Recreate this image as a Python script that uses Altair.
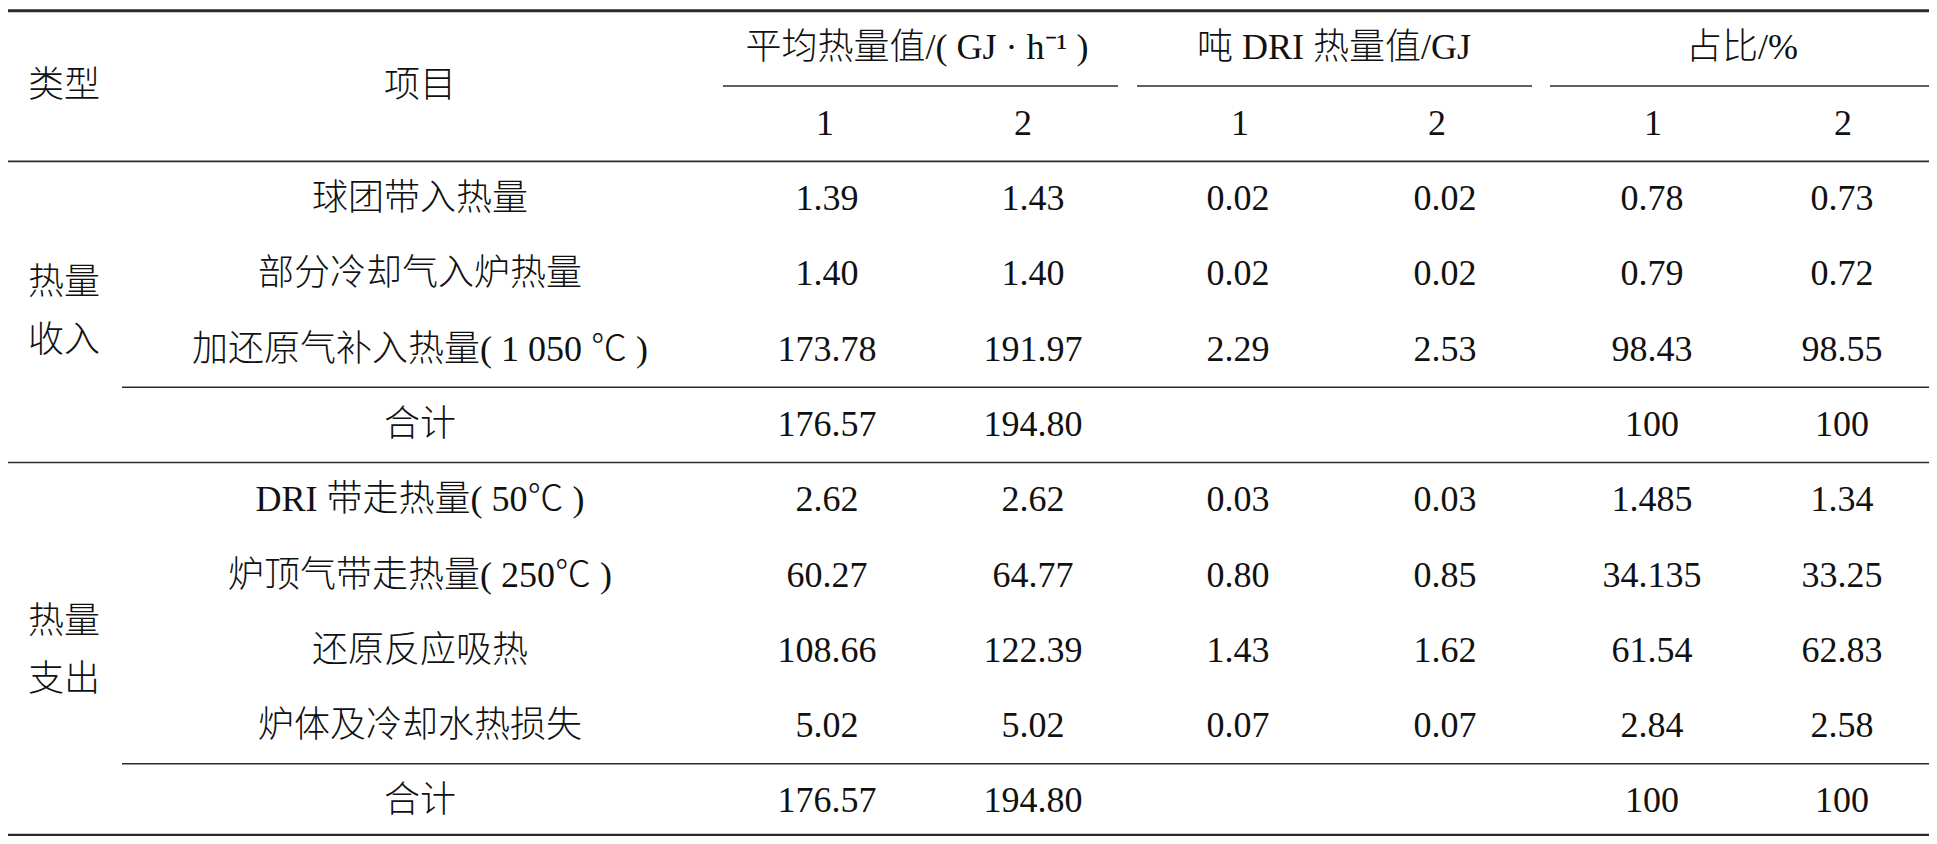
import altair as alt
import pandas as pd

corner_labels = ["类型", "项目"]
group_headers = ["平均热量值/( GJ · h⁻¹ )", "吨 DRI 热量值/GJ", "占比/%"]
sub_headers = ["1", "2", "1", "2", "1", "2"]
type_labels = [["热量", "收入"], ["热量", "支出"]]
type_rows = [[0, 1, 2, 3], [4, 5, 6, 7, 8]]

items = [
    "球团带入热量",
    "部分冷却气入炉热量",
    "加还原气补入热量( 1 050 ℃ )",
    "合计",
    "DRI 带走热量( 50℃ )",
    "炉顶气带走热量( 250℃ )",
    "还原反应吸热",
    "炉体及冷却水热损失",
    "合计",
]
avg_heat_1 = ["1.39", "1.40", "173.78", "176.57", "2.62", "60.27", "108.66", "5.02", "176.57"]
avg_heat_2 = ["1.43", "1.40", "191.97", "194.80", "2.62", "64.77", "122.39", "5.02", "194.80"]
ton_heat_1 = ["0.02", "0.02", "2.29", "", "0.03", "0.80", "1.43", "0.07", ""]
ton_heat_2 = ["0.02", "0.02", "2.53", "", "0.03", "0.85", "1.62", "0.07", ""]
share_1 = ["0.78", "0.79", "98.43", "100", "1.485", "34.135", "61.54", "2.84", "100"]
share_2 = ["0.73", "0.72", "98.55", "100", "1.34", "33.25", "62.83", "2.58", "100"]
value_columns = [avg_heat_1, avg_heat_2, ton_heat_1, ton_heat_2, share_1, share_2]

# ---------------- layout (page pixels / row units) ----------------
W, H = 1921, 828
OX, OY = 8, 8
ROW0, PITCH = 199.0, 75.3          # page y of first body row, row pitch
LEFT, RIGHT, INNER = 8, 1930, 122
type_x = 64
type_half_gap = 0.385              # half line spacing of the two-line type label (rows)
item_x = 420
col_x = [827, 1033, 1238, 1445, 1652, 1842]
sub_x = [825, 1023, 1240, 1437, 1653, 1843]
grp_x = [917, 1334, 1742]
grp_span = [(723, 1118), (1137, 1532), (1550, 1930)]

FONT = "Liberation Serif, Noto Sans CJK SC"
FS = 36
TEXT_C = "#111111"
LINE_C = "#2b2b2b"

texts = []
texts.append({"x": type_x, "r": -1.5, "t": corner_labels[0]})
texts.append({"x": item_x, "r": -1.5, "t": corner_labels[1]})
for gx, g in zip(grp_x, group_headers):
    texts.append({"x": gx, "r": -2.0, "t": g})
for sx, s in zip(sub_x, sub_headers):
    texts.append({"x": sx, "r": -1.0, "t": s})
for i, it in enumerate(items):
    texts.append({"x": item_x, "r": i, "t": it})
    for cx, col in zip(col_x, value_columns):
        if col[i]:
            texts.append({"x": cx, "r": i, "t": col[i]})
for lab, rs in zip(type_labels, type_rows):
    mid = sum(rs) / len(rs)
    texts.append({"x": type_x, "r": mid - type_half_gap, "t": lab[0]})
    texts.append({"x": type_x, "r": mid + type_half_gap, "t": lab[1]})
text_df = pd.DataFrame(texts)

lines = [
    {"x1": LEFT, "x2": RIGHT, "r": -2.5, "w": 3.0},
    {"x1": LEFT, "x2": RIGHT, "r": -0.5, "w": 1.6},
    {"x1": INNER, "x2": RIGHT, "r": 2.5, "w": 1.6},
    {"x1": LEFT, "x2": RIGHT, "r": 3.5, "w": 1.6},
    {"x1": INNER, "x2": RIGHT, "r": 7.5, "w": 1.6},
    {"x1": LEFT, "x2": RIGHT, "r": 8.45, "w": 3.0},
]
for a, b in grp_span:
    lines.append({"x1": a, "x2": b, "r": -1.5, "w": 1.6})
line_df = pd.DataFrame(lines)

r_top = (OY - ROW0) / PITCH
r_bot = (OY + H - ROW0) / PITCH
xs = alt.Scale(domain=[OX, OX + W], nice=False, zero=False)
ys = alt.Scale(domain=[r_top, r_bot], nice=False, zero=False, reverse=True)

rules = alt.Chart(line_df).mark_rule(color=LINE_C, strokeCap="butt").encode(
    x=alt.X("x1:Q", scale=xs, axis=None),
    x2="x2:Q",
    y=alt.Y("r:Q", scale=ys, axis=None),
    strokeWidth=alt.StrokeWidth("w:Q", scale=None, legend=None),
)

cells = alt.Chart(text_df).mark_text(
    font=FONT, fontSize=FS, fontWeight=300, color=TEXT_C, align="center",
    baseline="middle",
).encode(
    x=alt.X("x:Q", scale=xs, axis=None),
    y=alt.Y("r:Q", scale=ys, axis=None),
    text="t:N",
)

chart = alt.layer(rules, cells).properties(
    width=W, height=H, padding=0, autosize=alt.AutoSizeParams(type="none"),
    background="white",
).configure_view(stroke=None)

chart.save("out.html", embed_options={"renderer": "svg", "actions": False})
